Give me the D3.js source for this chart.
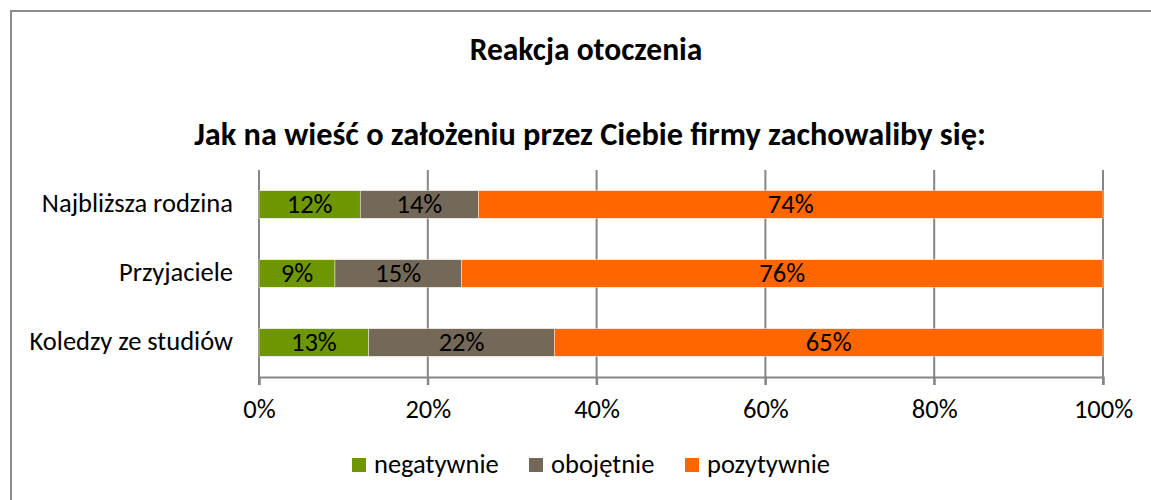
<!DOCTYPE html>
<html>
<head>
<meta charset="utf-8">
<script src="https://cdn.jsdelivr.net/npm/d3@7"></script>
<style>
  html, body { margin:0; padding:0; background:#fff; overflow:hidden; }
  svg { display:block; }
  text { font-family: Carlito, Lato, "Open Sans", sans-serif; fill:#000; }
</style>
</head>
<body>
<svg id="chart" width="1151" height="500"></svg>
<script>
// dane wykresu
var categories = ['Najbliższa rodzina', 'Przyjaciele', 'Koledzy ze studiów'];
var seriesNames = ['negatywnie', 'obojętnie', 'pozytywnie'];
var negatywnie = [12, 9, 13];
var obojetnie = [14, 15, 22];
var pozytywnie = [74, 76, 65];
var tickValues = [0, 20, 40, 60, 80, 100];
var colors = ['#6e9600', '#746958', '#ff6600'];

var svg = d3.select('#chart')
	,margin = { left:259, right:48, top:170, bottom:123 }
	,W = 1151, H = 500
	,plotW = W - margin.left - margin.right
	,plotH = H - margin.top - margin.bottom
	,fontBody = 26.5;

// ramka (widoczna tylko lewa i górna krawędź)
svg.append('path')
	.attr('d', 'M11,' + H + 'V11H' + W)
	.attr('fill', 'none').attr('stroke', '#8c8c8c').attr('stroke-width', 2);

svg.append('text').attr('x', 586).attr('y', 60)
	.attr('text-anchor', 'middle').attr('font-size', 31.5).attr('font-weight', 'bold')
	.text('Reakcja otoczenia');
svg.append('text').attr('x', 590).attr('y', 145)
	.attr('text-anchor', 'middle').attr('font-size', 32.3).attr('font-weight', 'bold')
	.text('Jak na wieść o założeniu przez Ciebie firmy zachowaliby się:');

var rows = categories.map(function(c, i){
	return { cat:c, negatywnie:negatywnie[i], obojetnie:obojetnie[i], pozytywnie:pozytywnie[i] };
});
var stack = d3.stack().keys(['negatywnie', 'obojetnie', 'pozytywnie'])(rows);

var x = d3.scaleLinear().domain([0, 100]).range([0, plotW]);
var y = d3.scaleBand().domain(categories).range([0, plotH]).paddingInner(0.6).paddingOuter(0.3);

var g = svg.append('g').attr('transform', 'translate(' + margin.left + ',' + margin.top + ')');

// siatka
g.append('g').selectAll('line').data(tickValues).join('line')
	.attr('x1', function(d){ return x(d); }).attr('x2', function(d){ return x(d); })
	.attr('y1', 0).attr('y2', plotH + 8)
	.attr('stroke', '#868686').attr('stroke-width', 2);

var xAxis = d3.axisBottom(x).tickValues(tickValues)
	.tickFormat(function(d){ return d + '%'; }).tickSize(8).tickPadding(14);
var gx = g.append('g').attr('transform', 'translate(0,' + plotH + ')').call(xAxis);
gx.select('.domain').attr('stroke', '#868686').attr('stroke-width', 2);
gx.selectAll('.tick line').attr('stroke', '#868686').attr('stroke-width', 2);
gx.selectAll('.tick text').attr('font-size', fontBody).attr('font-family', 'Carlito, Lato, "Open Sans", sans-serif');

// etykiety kategorii
g.append('g').selectAll('text').data(categories).join('text')
	.attr('x', -26).attr('y', function(d){ return y(d) + y.bandwidth()/2; })
	.attr('dy', '0.3em').attr('text-anchor', 'end').attr('font-size', fontBody)
	.text(function(d){ return d; });

var layer = g.append('g').selectAll('g').data(stack).join('g')
	.attr('fill', function(d, i){ return colors[i]; });
layer.selectAll('rect').data(function(d){ return d; }).join('rect')
	.attr('x', function(d){ return x(d[0]); })
	.attr('y', function(d){ return y(d.data.cat); })
	.attr('width', function(d){ return x(d[1]) - x(d[0]); })
	.attr('height', y.bandwidth())
	.attr('stroke', '#fff').attr('stroke-width', 0.6).attr('stroke-opacity', 0.7);
layer.selectAll('text').data(function(d){ return d; }).join('text')
	.attr('x', function(d){ return (x(d[0]) + x(d[1]))/2; })
	.attr('y', function(d){ return y(d.data.cat) + y.bandwidth()/2; })
	.attr('dy', '0.33em').attr('text-anchor', 'middle').attr('font-size', fontBody)
	.text(function(d){ return (d[1] - d[0]) + '%'; });

// legenda
var legX = [352, 529, 685];
var leg = svg.append('g').selectAll('g').data(seriesNames).join('g')
	.attr('transform', function(d, i){ return 'translate(' + legX[i] + ',458)'; });
leg.append('rect').attr('width', 14).attr('height', 14)
	.attr('fill', function(d, i){ return colors[i]; });
leg.append('text').attr('x', 22).attr('y', 7).attr('dy', '0.3em')
	.attr('font-size', fontBody).text(function(d){ return d; });
</script>
</body>
</html>
